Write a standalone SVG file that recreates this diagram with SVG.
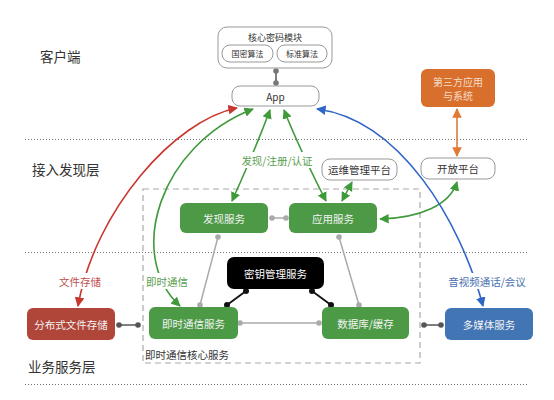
<svg xmlns="http://www.w3.org/2000/svg" width="554" height="400" viewBox="0 0 554 400">
<defs>
<style>
text{font-family:"Noto Sans CJK SC","Liberation Sans",sans-serif;}
.layer{font-size:13.5px;fill:#333;}
.nt{font-size:10.5px;fill:#f2f2f2;text-anchor:middle;dominant-baseline:central;}
.bt{font-size:10.5px;fill:#333;text-anchor:middle;dominant-baseline:central;}
.wbox{fill:#fff;stroke:#999;stroke-width:1;}
.sep{stroke:#777;stroke-width:1;stroke-dasharray:1,2;}
.gray{stroke:#aaa;stroke-width:1.5;fill:none;}
.blk{stroke:#111;stroke-width:1.8;fill:none;}
.dk{stroke:#555;stroke-width:1.5;fill:none;}
.lbl{font-size:10.5px;text-anchor:middle;dominant-baseline:central;}
</style>
<marker id="ar" viewBox="0 0 10 10" refX="9" refY="5" markerWidth="6" markerHeight="6" orient="auto-start-reverse"><path d="M0,0 L10,5 L0,10 z" fill="#c8372d"/></marker>
<marker id="ag" viewBox="0 0 10 10" refX="9" refY="5" markerWidth="6" markerHeight="6" orient="auto-start-reverse"><path d="M0,0 L10,5 L0,10 z" fill="#3f9a3a"/></marker>
<marker id="ab" viewBox="0 0 10 10" refX="9" refY="5" markerWidth="6" markerHeight="6" orient="auto-start-reverse"><path d="M0,0 L10,5 L0,10 z" fill="#2f64c8"/></marker>
<marker id="ao" viewBox="0 0 10 10" refX="9" refY="5" markerWidth="6" markerHeight="6" orient="auto-start-reverse"><path d="M0,0 L10,5 L0,10 z" fill="#e07a35"/></marker>
</defs>
<rect width="554" height="400" fill="#fff"/>

<g id="layers">
<line class="sep" x1="25" y1="139.5" x2="528" y2="139.5"/>
<line class="sep" x1="25" y1="252.5" x2="528" y2="252.5"/>
<line class="sep" x1="25" y1="384.5" x2="528" y2="384.5"/>
<text class="layer" x="40" y="62">客户端</text>
<text class="layer" x="32" y="175">接入发现层</text>
<text class="layer" x="28" y="372">业务服务层</text>
</g>

<g id="core-area">
<rect x="143" y="189" width="277" height="174" fill="none" stroke="#aaa" stroke-width="1.2" stroke-dasharray="6,4"/>
<text x="145" y="354" style="font-size:10.5px;fill:#333;dominant-baseline:central;">即时通信核心服务</text>
</g>

<g id="connectors">
<!-- core module to app -->
<line class="dk" x1="276" y1="71" x2="276" y2="83" stroke="#777"/>
<circle cx="276" cy="71" r="2.8" fill="#777"/><circle cx="276" cy="83" r="2.8" fill="#777"/>
<!-- discovery - app service -->
<line class="gray" x1="272" y1="218" x2="286" y2="218"/>
<circle cx="272" cy="218" r="2.8" fill="#aaa"/><circle cx="286" cy="218" r="2.8" fill="#aaa"/>
<!-- gray triangle -->
<line class="gray" x1="218" y1="237" x2="200" y2="305"/>
<circle cx="218" cy="237" r="2.8" fill="#aaa"/><circle cx="200" cy="305" r="2.8" fill="#aaa"/>
<line class="gray" x1="339" y1="237" x2="359" y2="305"/>
<circle cx="339" cy="237" r="2.8" fill="#aaa"/><circle cx="359" cy="305" r="2.8" fill="#aaa"/>
<line class="gray" x1="240" y1="323" x2="319" y2="323"/>
<circle cx="240" cy="323" r="2.8" fill="#aaa"/><circle cx="319" cy="323" r="2.8" fill="#aaa"/>
<!-- key mgmt black -->
<line class="blk" x1="246" y1="291" x2="227" y2="305"/>
<circle cx="246" cy="291" r="3" fill="#111"/><circle cx="227" cy="305" r="3" fill="#111"/>
<line class="blk" x1="312" y1="291" x2="331" y2="305"/>
<circle cx="312" cy="291" r="3" fill="#111"/><circle cx="331" cy="305" r="3" fill="#111"/>
<!-- file storage link -->
<line class="dk" x1="119" y1="325" x2="138" y2="325"/>
<circle cx="119" cy="325" r="2.8" fill="#555"/><circle cx="138" cy="325" r="2.8" fill="#555"/>
<!-- multimedia link -->
<line class="dk" x1="424" y1="325" x2="441" y2="325"/>
<circle cx="424" cy="325" r="2.8" fill="#555"/><circle cx="441" cy="325" r="2.8" fill="#555"/>

<!-- red file storage -->
<path d="M237,108 C175,120 95,210 78,306" fill="none" stroke="#c8372d" stroke-width="1.6" marker-start="url(#ar)" marker-end="url(#ar)"/>
<!-- green IM -->
<path d="M253,109 C160,145 125,255 180,306" fill="none" stroke="#3f9a3a" stroke-width="1.6" marker-start="url(#ag)" marker-end="url(#ag)"/>
<!-- green discovery -->
<path d="M270,110 Q255,150 232,201" fill="none" stroke="#3f9a3a" stroke-width="1.6" marker-start="url(#ag)" marker-end="url(#ag)"/>
<path d="M284,110 Q300,150 326,201" fill="none" stroke="#3f9a3a" stroke-width="1.6" marker-start="url(#ag)" marker-end="url(#ag)"/>
<!-- ops platform -->
<line x1="342" y1="201" x2="352" y2="182" stroke="#3f9a3a" stroke-width="1.6" marker-start="url(#ag)" marker-end="url(#ag)"/>
<!-- open platform -->
<path d="M380,219 C420,218 450,205 457,182" fill="none" stroke="#3f9a3a" stroke-width="1.6" marker-start="url(#ag)" marker-end="url(#ag)"/>
<!-- orange -->
<line x1="457" y1="109" x2="457" y2="156" stroke="#e07a35" stroke-width="1.6" marker-start="url(#ao)" marker-end="url(#ao)"/>
<!-- blue -->
<path d="M317,109 C400,120 460,220 483,306" fill="none" stroke="#2f64c8" stroke-width="1.6" marker-start="url(#ab)" marker-end="url(#ab)"/>

<!-- labels -->
<rect x="56" y="273" width="48" height="16" fill="#fff"/>
<text class="lbl" x="80" y="281" fill="#c0504d">文件存储</text>
<rect x="145" y="273" width="44" height="16" fill="#fff"/>
<text class="lbl" x="167" y="281" fill="#5a9e52">即时通信</text>
<rect x="240" y="152" width="74" height="16" fill="#fff"/>
<text class="lbl" x="277" y="160" fill="#5a9e52">发现/注册/认证</text>
<rect x="447" y="273" width="80" height="16" fill="#fff"/>
<text class="lbl" x="487" y="281" fill="#4a72b0">音视频通话/会议</text>
</g>

<g id="core-module">
<rect class="wbox" x="218" y="27" width="114" height="41" rx="9"/>
<text x="275" y="37" style="font-size:9px;fill:#333;text-anchor:middle;dominant-baseline:central;">核心密码模块</text>
<rect class="wbox" x="222" y="45" width="51" height="17" rx="8"/>
<text x="247.5" y="53.5" style="font-size:8px;fill:#333;text-anchor:middle;dominant-baseline:central;">国密算法</text>
<rect class="wbox" x="277" y="45" width="50" height="17" rx="8"/>
<text x="302" y="53.5" style="font-size:8px;fill:#333;text-anchor:middle;dominant-baseline:central;">标准算法</text>
</g>

<g id="app">
<rect class="wbox" x="232" y="86" width="87" height="20" rx="8"/>
<text class="bt" x="275.5" y="96" style="font-size:10px;">App</text>
</g>

<g id="third-party">
<rect x="421" y="69" width="74" height="38" rx="6" fill="#d86f2c"/>
<text class="nt" x="458" y="81" style="font-size:10px;fill:#f5dcc8;">第三方应用</text>
<text class="nt" x="458" y="95" style="font-size:10px;fill:#f5dcc8;">与系统</text>
</g>

<g id="open-platform">
<rect class="wbox" x="421" y="158" width="74" height="21" rx="8"/>
<text class="bt" x="458" y="168.5">开放平台</text>
</g>

<g id="ops-platform">
<rect class="wbox" x="322" y="159" width="75" height="21" rx="8"/>
<text class="bt" x="359.5" y="169.5">运维管理平台</text>
</g>

<g id="discovery">
<rect x="180" y="203" width="88" height="30" rx="6" fill="#4d9a46"/>
<text class="nt" x="224" y="218">发现服务</text>
</g>

<g id="app-service">
<rect x="289" y="203" width="88" height="30" rx="6" fill="#4d9a46"/>
<text class="nt" x="333" y="218">应用服务</text>
</g>

<g id="key-mgmt">
<rect x="227" y="257" width="97" height="32" rx="7" fill="#000"/>
<text class="nt" x="275.5" y="273" style="fill:#fff;">密钥管理服务</text>
</g>

<g id="im-service">
<rect x="149" y="307" width="89" height="32" rx="6" fill="#4d9a46"/>
<text class="nt" x="193.5" y="323">即时通信服务</text>
</g>

<g id="db-cache">
<rect x="322" y="307" width="87" height="32" rx="6" fill="#4d9a46"/>
<text class="nt" x="365.5" y="323">数据库/缓存</text>
</g>

<g id="file-storage">
<rect x="27" y="308" width="88" height="32" rx="6" fill="#b0463a"/>
<text class="nt" x="71" y="324">分布式文件存储</text>
</g>

<g id="multimedia">
<rect x="445" y="308" width="88" height="32" rx="6" fill="#4175b4"/>
<text class="nt" x="489" y="324">多媒体服务</text>
</g>
</svg>
